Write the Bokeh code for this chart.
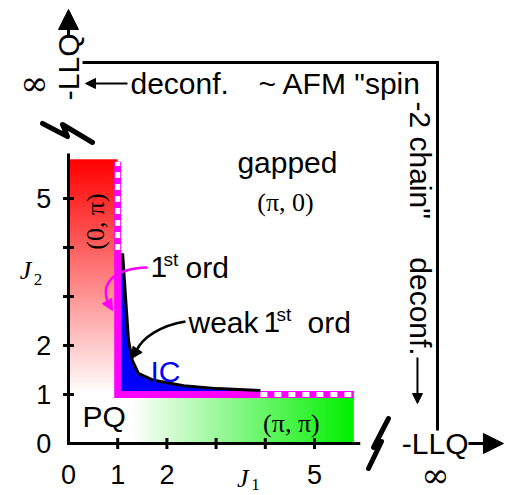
import numpy as np
from bokeh.plotting import figure
from bokeh.models import Arrow, NormalHead, Range1d
from bokeh.core.properties import value
from bokeh.embed import file_html
from bokeh.resources import INLINE

# ---------------- data ----------------
x_ticks = [1, 2, 3, 4, 5]
x_tick_labels = ["0", "1", "2", "5"]
x_label_pos = [0, 1, 2, 5]
y_ticks = [1, 2, 3, 4, 5]
y_tick_labels = ["0", "1", "2", "5"]
y_label_pos = [0, 1, 2, 5]

J_c = 1.0          # first-order lines J1 = 1 and J2 = 1
J_max = 5.8        # drawn extent of the phases
axis_max = 5.93    # end of the finite axes

# weak first-order boundary of the incommensurate (IC) phase
ic_J1 = [1.10, 1.16, 1.22, 1.30, 1.42, 1.73, 2.34, 3.03, 3.90]
ic_J2 = [3.88, 2.98, 2.10, 1.69, 1.43, 1.29, 1.18, 1.12, 1.08]

# where the first-order lines become dotted
dotted_J2_from = 3.95
dotted_J1_from = 3.90

SANS = "Liberation Sans"
SERIF = "Liberation Serif"
FS = 30

p = figure(width=505, height=495,
           x_range=Range1d(-68 / 49.2, 437 / 49.2),
           y_range=Range1d(-52 / 49.0, 443 / 49.0),
           output_backend="svg", toolbar_location=None,
           x_axis_location=None, y_axis_location=None,
           min_border=0, outline_line_color=None)
p.grid.visible = False
p.background_fill_color = "white"
p.border_fill_color = "white"


def label(x, y, s, size, font=SANS, align="left", baseline="middle",
          angle=0.0, color="black", style="normal"):
    p.text(x=[x], y=[y], text=[s], text_font=value(font),
           text_font_size=value(f"{size}px"), text_align=align,
           text_baseline=baseline, angle=angle, text_color=color,
           text_font_style=style)


# ---------------- gradient phases ----------------
n = 256
t = np.linspace(0.0, 1.0, n)
red = np.empty((n, 1), dtype=np.uint32)
rv = red.view(dtype=np.uint8).reshape((n, 1, 4))
rv[:, 0, 0] = 255
rv[:, 0, 1] = (255 * (1 - t)).astype(np.uint8)
rv[:, 0, 2] = (255 * (1 - t)).astype(np.uint8)
rv[:, 0, 3] = 255
p.image_rgba(image=[red], x=0, y=J_c, dw=J_c, dh=J_max - J_c)

tg = np.clip((np.linspace(J_c, J_max, n) - 1.3) / (J_max - 1.3), 0, 1)
green = np.empty((1, n), dtype=np.uint32)
gv = green.view(dtype=np.uint8).reshape((1, n, 4))
gv[0, :, 0] = (255 * (1 - tg)).astype(np.uint8)
gv[0, :, 1] = (255 - 15 * tg).astype(np.uint8)
gv[0, :, 2] = (255 * (1 - tg)).astype(np.uint8)
gv[0, :, 3] = 255
p.image_rgba(image=[green], x=J_c, y=0, dw=J_max - J_c, dh=J_c)

# ---------------- IC phase ----------------
p.patch(x=[J_c] + ic_J1 + [ic_J1[-1], J_c], y=[ic_J2[0]] + ic_J2 + [J_c, J_c],
        fill_color="#0000ff", line_color=None)

# first order lines (magenta), dotted further out
p.line(x=[J_c, J_c, J_max], y=[J_max - 0.05, J_c, J_c], line_color="#ff00ff",
       line_width=7, line_join="miter")
p.line(x=[J_c, J_c], y=[dotted_J2_from, J_max - 0.05], line_color="white",
       line_width=5, line_dash="6 6")
p.line(x=[dotted_J1_from, J_max], y=[J_c, J_c], line_color="white",
       line_width=5, line_dash="7 7")

# weak first-order curve
p.line(x=ic_J1, y=ic_J2, line_color="black", line_width=3)

# ---------------- axes ----------------
p.line(x=[0, 0, axis_max], y=[axis_max - 0.01, 0, 0], line_color="black",
       line_width=3, line_join="miter")
p.segment(x0=x_ticks, y0=[-0.11] * len(x_ticks), x1=x_ticks,
          y1=[0.11] * len(x_ticks), line_color="black", line_width=3)
p.segment(x0=[-0.11] * len(y_ticks), y0=y_ticks, x1=[0.11] * len(y_ticks),
          y1=y_ticks, line_color="black", line_width=3)
p.text(x=x_label_pos, y=[-0.64] * len(x_label_pos), text=x_tick_labels,
       text_font=value(SANS), text_font_size=value("27px"),
       text_align="center", text_baseline="middle")
p.text(x=[-0.35] * len(y_label_pos), y=y_label_pos, text=y_tick_labels,
       text_font=value(SANS), text_font_size=value("27px"),
       text_align="right", text_baseline="middle")

# axis breaks
p.line(x=[-0.528, -0.020, -0.122, 0.488], y=[6.531, 6.265, 6.510, 6.143],
       line_color="black", line_width=5, line_cap="round", line_join="round")
p.line(x=[6.098, 6.362, 6.199, 6.504], y=[-0.510, 0.041, -0.082, 0.510],
       line_color="black", line_width=5, line_cap="round", line_join="round")

# outer frame (J -> infinity)
p.line(x=[0.285, 7.50, 7.50], y=[7.776, 7.776, 0.265], line_color="black",
       line_width=3, line_join="miter")

# arrows of the LLQ axes
p.add_layout(Arrow(end=NormalHead(size=20, fill_color="black", line_color="black"),
                   x_start=0, y_start=8.33, x_end=0, y_end=8.857,
                   line_color="black", line_width=3))
p.add_layout(Arrow(end=NormalHead(size=20, fill_color="black", line_color="black"),
                   x_start=8.13, y_start=0, x_end=8.84, y_end=0,
                   line_color="black", line_width=3))
# deconf. arrows
p.add_layout(Arrow(end=NormalHead(size=10, fill_color="black", line_color="black"),
                   x_start=1.199, y_start=7.347, x_end=0.346, y_end=7.347,
                   line_color="black", line_width=2))
p.add_layout(Arrow(end=NormalHead(size=10, fill_color="black", line_color="black"),
                   x_start=7.093, y_start=1.755, x_end=7.093, y_end=0.816,
                   line_color="black", line_width=2))

# curved pointers
p.bezier(x0=[1.606], y0=[3.592], x1=[0.813], y1=[2.857], cx0=[0.854], cy0=[3.571],
         cx1=[0.650], cy1=[3.224], line_color="#ff00ff", line_width=2.5)
p.add_layout(Arrow(end=NormalHead(size=11, fill_color="#ff00ff", line_color="#ff00ff"),
                   x_start=0.80, y_start=2.88, x_end=0.894, y_end=2.714,
                   line_color="#ff00ff", line_width=2.5))
p.bezier(x0=[2.378], y0=[2.490], x1=[1.382], y1=[1.898], cx0=[1.870], cy0=[2.408],
         cx1=[1.504], cy1=[2.163], line_color="black", line_width=2.5)
p.add_layout(Arrow(end=NormalHead(size=11, fill_color="black", line_color="black"),
                   x_start=1.39, y_start=1.90, x_end=1.280, y_end=1.735,
                   line_color="black", line_width=2.5))

# ---------------- texts ----------------
label(1.26, 7.347, "deconf.", FS)
label(3.86, 7.347, "~ AFM \"spin", FS)
label(7.154, 6.98, "-2 chain\"", FS, angle=-np.pi / 2)
label(7.154, 3.80, "deconf.", FS, angle=-np.pi / 2)
label(4.45, 5.743, "gapped", FS, align="center")
label(4.41, 4.92, "(π, 0)", 26, font=SERIF, align="center")
label(0.549, 4.53, "(0, π)", 26, font=SERIF, align="center", angle=np.pi / 2)
label(4.53, 0.41, "(π, π)", 26, font=SERIF, align="center")
label(1.667, 3.60, "1", FS)
label(1.93, 3.759, "st", 19)
label(2.378, 3.60, "ord", FS)
label(2.439, 2.478, "weak", FS)
label(3.963, 2.478, "1", FS)
label(4.227, 2.637, "st", 19)
label(4.858, 2.478, "ord", FS)
label(1.667, 1.469, "IC", FS, color="#0000ff")
label(0.285, 0.551, "PQ", FS)
label(-0.691, 7.367, "∞", 34, font="DejaVu Serif", align="center")
label(7.46, -0.653, "∞", 34, font="DejaVu Serif", align="center")
label(0.0, 8.367, "-LLQ", FS, align="right", angle=np.pi / 2)
label(8.13, 0.0, "-LLQ", FS, align="right")
label(-0.874, 3.53, "J", 26, font=SERIF, align="center", style="italic")
label(-0.62, 3.35, "2", 17, font=SERIF, align="center")
label(3.54, -0.71, "J", 26, font=SERIF, align="center", style="italic")
label(3.80, -0.83, "1", 17, font=SERIF, align="center")

open("out.html", "w").write(file_html(p, INLINE))
